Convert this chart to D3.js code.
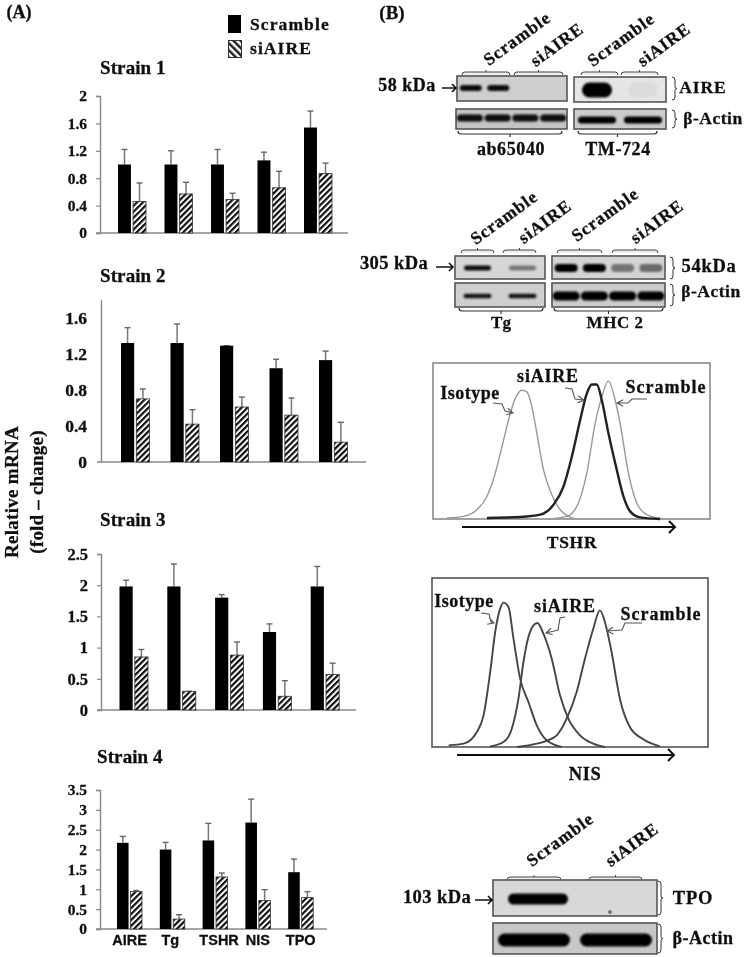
<!DOCTYPE html>
<html><head><meta charset="utf-8">
<script src="https://cdn.jsdelivr.net/npm/d3@7"></script>
<style>
html,body{margin:0;padding:0;background:#fff}
text{font-family:"Liberation Serif",serif;font-weight:bold;fill:#111;stroke:#111;stroke-width:0.3px}
</style></head><body><svg id="fig" width="745" height="957"></svg>
<script>
// ---------- data: qPCR bars ----------
const categories = ["AIRE","Tg","TSHR","NIS","TPO"];
const seriesNames = ["Scramble","siAIRE"];
const strainNames = ["Strain 1","Strain 2","Strain 3","Strain 4"];
const strain1Scramble = [1.0,1.0,1.0,1.06,1.54];
const strain1ScrambleTop = [1.22,1.2,1.22,1.18,1.78];
const strain1Si = [0.46,0.57,0.49,0.66,0.87];
const strain1SiTop = [0.73,0.74,0.58,0.9,1.02];
const strain2Scramble = [1.32,1.32,1.29,1.04,1.13];
const strain2ScrambleTop = [1.49,1.53,1.29,1.14,1.23];
const strain2Si = [0.7,0.42,0.61,0.52,0.22];
const strain2SiTop = [0.81,0.58,0.72,0.71,0.44];
const strain3Scramble = [1.98,1.98,1.8,1.25,1.98];
const strain3ScrambleTop = [2.08,2.34,1.85,1.38,2.3];
const strain3Si = [0.85,0.3,0.88,0.22,0.57];
const strain3SiTop = [0.97,0.3,1.09,0.47,0.75];
const strain4Scramble = [2.17,2.0,2.23,2.68,1.43];
const strain4ScrambleTop = [2.33,2.18,2.66,3.27,1.76];
const strain4Si = [0.94,0.25,1.31,0.72,0.79];
const strain4SiTop = [0.97,0.36,1.41,0.99,0.94];
const ticks1 = [0,0.4,0.8,1.2,1.6,2];
const ticks2 = [0,0.4,0.8,1.2,1.6];
const ticks3 = [0,0.5,1,1.5,2,2.5];
const ticks4 = [0,0.5,1,1.5,2,2.5,3,3.5];

// ---------- data: flow cytometry histograms ----------
const tshrIsoX = [80,130,170,200,225,250,270,290,305,320,335,350,370,395,420,465];
const tshrIsoY = [3,8,28,68,138,238,318,373,388,383,338,258,148,73,28,0];
const tshrSiX = [200,300,360,400,430,455,480,500,515,530,545,565,590,610,630,660,720];
const tshrSiY = [3,6,13,43,98,188,298,378,405,405,358,258,148,68,23,5,0];
const tshrScrX = [380,440,470,500,525,545,565,580,600,625,650,680,730];
const tshrScrY = [0,8,38,138,288,368,416,378,288,138,48,13,0];
const nisIsoX = [85,130,170,190,210,225,240,250,265,280,300,325,350,380,425];
const nisIsoY = [5,10,45,95,225,345,415,433,420,325,205,135,65,20,0];
const nisSiX = [210,250,275,295,310,325,340,352,370,395,420,445,480,520,555];
const nisSiY = [2,15,55,145,255,330,365,372,340,265,155,85,35,10,0];
const nisScrX = [290,350,375,410,440,470,495,520,540,555,575,600,630,670,720];
const nisScrY = [0,10,17,35,85,165,265,355,410,375,285,145,60,23,2];

// ---------- data: western blot lane intensities (0..1) ----------
const ab65040Aire = [0.95,0.95,0,0];
const ab65040Actin = [0.95,0.95,0.95,0.95];
const tm724Aire = [1,0.05];
const tm724Actin = [1,1];
const tgBand = [0.95,0.45];
const tgActin = [0.9,0.9];
const mhcBand = [1,1,0.45,0.5];
const mhcActin = [1,1,1,1];
const tpoBand = [1,0];
const tpoActin = [1,1];

// ---------- set up ----------
const svg = d3.select("#fig");
const defs = svg.append("defs");
const soft = defs.append("filter").attr("id","soft").attr("filterUnits","userSpaceOnUse")
  .attr("x",0).attr("y",0).attr("width",745).attr("height",957);
soft.append("feGaussianBlur").attr("stdDeviation",0.65);
const bandBlur = defs.append("filter").attr("id","bandBlur").attr("x","-20%").attr("y","-40%").attr("width","140%").attr("height","180%");
bandBlur.append("feGaussianBlur").attr("stdDeviation",1.3);
const hatch = defs.append("pattern").attr("id","hatch").attr("patternUnits","userSpaceOnUse")
  .attr("width",4.2).attr("height",4.2).attr("patternTransform","rotate(45)");
hatch.append("rect").attr("width",4.2).attr("height",4.2).attr("fill","#fff");
hatch.append("rect").attr("width",2.2).attr("height",4.2).attr("fill","#111");
const hatchL = defs.append("pattern").attr("id","hatchL").attr("patternUnits","userSpaceOnUse")
  .attr("width",5).attr("height",5).attr("patternTransform","rotate(-45)");
hatchL.append("rect").attr("width",5).attr("height",5).attr("fill","#fff");
hatchL.append("rect").attr("width",2.5).attr("height",5).attr("fill","#222");

const root = svg.append("g").attr("filter","url(#soft)");
function label(x,y,t,size,opts={}){
  const n = root.append("text").attr("text-anchor",opts.anchor||"middle").attr("dominant-baseline","middle")
    .attr("font-size",size).attr("letter-spacing",opts.ls||0).text(t);
  n.attr("transform",`translate(${x},${y}) rotate(${opts.rot||0})`);
  return n;
}

// ---------- panel A ----------
label(19,14,"(A)",18);
label(392,15,"(B)",19);
root.append("rect").attr("x",228).attr("y",15).attr("width",13).attr("height",18).attr("fill","#000");
root.append("rect").attr("x",228.5).attr("y",40.5).attr("width",13).attr("height",17).attr("fill","url(#hatchL)").attr("stroke","#333");
label(250,26,seriesNames[0],17.5,{anchor:"start",ls:1.1});
label(250,50,seriesNames[1],17.5,{anchor:"start",ls:1.1});
label(14,492,"Relative mRNA",19,{rot:-90,ls:0.3});
label(39,492,"(fold \u2013 change)",19,{rot:-90,ls:0.2});

const panels = [
 {name:strainNames[0],s:strain1Scramble,st:strain1ScrambleTop,a:strain1Si,at:strain1SiTop,ticks:ticks1,max:2,top:96,base:233,ax:100,right:348,start:118,step:46.5,bw:28,tickLen:4,titleY:70,titleX:100,fs:15.5,pad:9},
 {name:strainNames[1],s:strain2Scramble,st:strain2ScrambleTop,a:strain2Si,at:strain2SiTop,ticks:ticks2,max:1.8,top:299.7,base:462,ax:101,right:366,start:121,step:49.5,bw:28.5,tickLen:0,titleY:278,titleX:100,fs:17.5,pad:14},
 {name:strainNames[2],s:strain3Scramble,st:strain3ScrambleTop,a:strain3Si,at:strain3SiTop,ticks:ticks3,max:2.5,top:554,base:710,ax:101,right:356,start:119.5,step:47.8,bw:28.5,tickLen:4,titleY:522,titleX:100,fs:16.5,pad:9},
 {name:strainNames[3],s:strain4Scramble,st:strain4ScrambleTop,a:strain4Si,at:strain4SiTop,ticks:ticks4,max:3.5,top:790,base:929,ax:100,right:327,start:117,step:42.8,bw:25,tickLen:4,titleY:759,titleX:97,fs:15.5,pad:9}
];
const labelNudge = {Tg:-2,TSHR:4};
panels.forEach((p,pi)=>{
  const y = d3.scaleLinear().domain([0,p.max]).range([p.base,p.top]);
  const x0 = d3.scaleBand().domain(categories).range([p.start,p.start+5*p.step]);
  const x1 = d3.scaleBand().domain(seriesNames).range([0,p.bw]).paddingInner(0.14);
  const g = root.append("g");
  label(p.titleX,p.titleY,p.name,19,{anchor:"start",ls:0.1});
  const ya = g.append("g").attr("transform",`translate(${p.ax},0)`)
    .call(d3.axisLeft(y).tickValues(p.ticks).tickSize(p.tickLen).tickPadding(p.pad).tickFormat(d=>String(d)));
  ya.select(".domain").attr("stroke","#888").attr("stroke-width",1.4);
  ya.selectAll(".tick line").attr("stroke","#888").attr("stroke-width",1.2);
  ya.selectAll("text").attr("font-size",p.fs).attr("fill","#111").style("font-family",'"Liberation Serif",serif');
  g.append("line").attr("x1",p.ax-4).attr("x2",p.right).attr("y1",p.base).attr("y2",p.base).attr("stroke","#888").attr("stroke-width",1.4);
  if(pi===3){
    const xa = g.append("g").attr("transform",`translate(0,${p.base})`).call(d3.axisBottom(x0).tickSize(0).tickPadding(6));
    xa.select(".domain").remove();
    xa.selectAll("text").attr("font-size",14.5).attr("fill","#111")
      .style("font-family",'"Liberation Sans",sans-serif')
      .attr("dx",d=>(labelNudge[d]||0)-(p.step-p.bw)/2);
  }
  const rows = categories.map((c,i)=>({c,vals:[{k:seriesNames[0],v:p.s[i],t:p.st[i]},{k:seriesNames[1],v:p.a[i],t:p.at[i]}]}));
  const grp = g.selectAll(".grp").data(rows).join("g").attr("class","grp").attr("transform",d=>`translate(${x0(d.c)},0)`);
  const cell = grp.selectAll("g").data(d=>d.vals).join("g");
  cell.append("line").attr("x1",d=>x1(d.k)+x1.bandwidth()/2).attr("x2",d=>x1(d.k)+x1.bandwidth()/2)
    .attr("y1",d=>y(d.t)).attr("y2",d=>y(d.v)).attr("stroke","#777").attr("stroke-width",1.5);
  cell.append("line").attr("x1",d=>x1(d.k)+x1.bandwidth()/2-3).attr("x2",d=>x1(d.k)+x1.bandwidth()/2+3)
    .attr("y1",d=>y(d.t)).attr("y2",d=>y(d.t)).attr("stroke","#666").attr("stroke-width",1.4);
  cell.append("rect").attr("x",d=>x1(d.k)).attr("width",x1.bandwidth())
    .attr("y",d=>y(d.v)).attr("height",d=>p.base-y(d.v))
    .attr("fill",d=>d.k===seriesNames[0]?"#000":"url(#hatch)")
    .attr("stroke",d=>d.k===seriesNames[0]?"none":"#333").attr("stroke-width",0.8);
});

// ---------- helpers for panel B ----------
function bracketTop(x0,x1,y){
  root.append("path").attr("fill","#eee").attr("stroke","#444").attr("stroke-width",1)
    .attr("d",`M${x0},${y+4} q0,-3 3,-3 L${x1-3},${y+1} q3,0 3,3 M${(x0+x1)/2},${y+1} v-2`);
}
function bracketBottom(x0,x1,y){
  root.append("path").attr("fill","none").attr("stroke","#333").attr("stroke-width",1.2)
    .attr("d",`M${x0},${y-3} q0,3 3,3 L${x1-3},${y} q3,0 3,-3 M${(x0+x1)/2},${y} v3`);
}
function brace(x,y0,y1){
  const m=(y0+y1)/2;
  root.append("path").attr("fill","none").attr("stroke","#333").attr("stroke-width",1)
    .attr("d",`M${x},${y0} q3,0 3,3 L${x+3},${m-2} q0,2 2,2 q-2,0 -2,2 L${x+3},${y1-3} q0,3 -3,3`);
}
function arrow(x0,x1,y,sw=1.6,head=4){
  root.append("path").attr("fill","none").attr("stroke","#111").attr("stroke-width",sw)
    .attr("d",`M${x0},${y} H${x1} M${x1-head},${y-head} L${x1},${y} L${x1-head},${y+head}`);
}
function blot(x,y,w,h,lanes,bw,bh,by,bg,dx=0){
  root.append("rect").attr("x",x).attr("y",y).attr("width",w).attr("height",h)
    .attr("fill",bg).attr("stroke","#555").attr("stroke-width",1.6);
  const lane = d3.scaleBand().domain(d3.range(lanes.length)).range([x,x+w]);
  const c = d3.scaleLinear().domain([0,1]).range([bg,"#000"]);
  root.append("g").attr("filter","url(#bandBlur)").selectAll("rect").data(lanes).join("rect")
    .attr("x",(d,i)=>lane(i)+(lane.bandwidth()-bw)/2+dx).attr("width",bw)
    .attr("y",y+by-bh/2).attr("height",bh).attr("rx",bh/2)
    .attr("fill",d=>c(d)).attr("opacity",d=>d>0?1:0);
}
const rot = {rot:-36,ls:0.9};
const headS = 17.5;
const sideS = 17.5;

// row 1
label(518,40,seriesNames[0],headS,rot); label(558,46,seriesNames[1],headS,rot);
label(622,41,seriesNames[0],headS,rot); label(665,46,seriesNames[1],headS,rot);
bracketTop(462,510,71); bracketTop(514,563,71); bracketTop(581,618,71); bracketTop(621,658,71);
blot(457,76,110,25,ab65040Aire,22,6,12,"#cfcfcf");
blot(456,109,111,20,ab65040Actin,26,7,9,"#c4c4c4");
blot(574,77,92,25,tm724Aire,30,15,13,"#e6e6e6");
blot(574,109,92,20,tm724Actin,38,7,11,"#cccccc");
label(407,87,"58 kDa",18,{ls:0.5}); arrow(442,456,88);
brace(672,77,100); brace(672,110,128);
label(703,89,"AIRE",sideS,{ls:0.9}); label(713,120,"\u03b2-Actin",sideS,{ls:0.5});
bracketBottom(458,562,134); bracketBottom(578,657,134);
label(511,151,"ab65040",18,{ls:0.6}); label(618,151,"TM-724",18,{ls:0.6});

// row 2
label(505,219,seriesNames[0],headS,rot); label(546,223,seriesNames[1],headS,rot);
label(606,216,seriesNames[0],headS,rot); label(658,223,seriesNames[1],headS,rot);
bracketTop(461,494,249); bracketTop(503,536,249); bracketTop(557,602,249); bracketTop(612,658,249);
blot(455,256,90,23,tgBand,27,5,12,"#d6d6d6");
blot(455,283,90,24,tgActin,28,4.5,13,"#cfcfcf");
blot(552,256,113,23,mhcBand,23,8,12,"#d4d4d4");
blot(552,283,113,24,mhcActin,27,9,13,"#cccccc");
label(394,265,"305 kDa",18.5,{ls:0.4}); arrow(436,453,267);
brace(670,257,279); brace(670,284,306);
label(709,268,"54kDa",18.5,{ls:0.7}); label(711,293,"\u03b2-Actin",sideS,{ls:0.5});
bracketBottom(459,543,311); bracketBottom(554,663,311);
label(501,324,"Tg",17); label(615,324,"MHC 2",17,{ls:0.5});

// flow panels
function flow(x,y,w,h,xDomain,yMax,curves,strokeBase){
  const sx = d3.scaleLinear().domain(xDomain).range([x,x+w]);
  const sy = d3.scaleLinear().domain([0,yMax]).range([y+h,y]);
  root.append("rect").attr("x",x).attr("y",y).attr("width",w).attr("height",h)
    .attr("fill","#fff").attr("stroke",strokeBase).attr("stroke-width",1.6);
  const line = d3.line().x(d=>sx(d[0])).y(d=>sy(d[1])).curve(d3.curveMonotoneX);
  curves.forEach(c=>{
    root.append("path").attr("fill","none").attr("stroke",c.color).attr("stroke-width",c.w)
      .attr("d",line(d3.zip(c.xs,c.ys)));
  });
}
function leader(pts){
  const [a,b]=pts.slice(-2);
  const ang=Math.atan2(b[1]-a[1],b[0]-a[0]);
  const hl=7;
  root.append("path").attr("fill","none").attr("stroke","#555").attr("stroke-width",1.1)
    .attr("d",d3.line()(pts)+`M${b[0]-hl*Math.cos(ang-0.5)},${b[1]-hl*Math.sin(ang-0.5)}L${b[0]},${b[1]}L${b[0]-hl*Math.cos(ang+0.5)},${b[1]-hl*Math.sin(ang+0.5)}`);
}
flow(433,363,277,156,[38,870],470,[
  {xs:tshrIsoX,ys:tshrIsoY,color:"#999",w:1.4},
  {xs:tshrScrX,ys:tshrScrY,color:"#999",w:1.4},
  {xs:tshrSiX,ys:tshrSiY,color:"#222",w:2.4}],"#8a8a8a");
label(470,395,"Isotype",18,{ls:0.5}); label(548,378,seriesNames[1],18,{ls:0.8}); label(666,389,seriesNames[0],18,{ls:1});
leader([[493,403],[502,404],[505,411],[513,413]]);
leader([[565,388],[572,389],[575,399],[584,400]]);
leader([[647,399],[632,399],[628,403],[617,403]]);
arrow(462,675,527,2,6);
label(572,544,"TSHR",17.5,{ls:0.7});

flow(432,578,276,169,[35,865],507,[
  {xs:nisIsoX,ys:nisIsoY,color:"#444",w:1.9},
  {xs:nisSiX,ys:nisSiY,color:"#444",w:1.9},
  {xs:nisScrX,ys:nisScrY,color:"#444",w:1.9}],"#555");
label(464,603,"Isotype",18,{ls:0.5}); label(565,608,seriesNames[1],18,{ls:0.8}); label(661,616,seriesNames[0],18,{ls:1});
leader([[481,613],[489,614],[491,622],[494,623]]);
leader([[565,617],[560,618],[558,630],[546,633]]);
leader([[642,623],[625,623],[622,630],[607,631]]);
arrow(457,674,755,2,6);
label(585,776,"NIS",18.5,{ls:0.5});

// TPO blot
label(561,841,seriesNames[0],headS,rot); label(633,846,seriesNames[1],headS,rot);
bracketTop(507,561,876); bracketTop(589,642,876);
blot(493,880,164,36,tpoBand,60,11,19,"#d8d8d8",4);
root.append("circle").attr("cx",610).attr("cy",912).attr("r",2).attr("fill","#777");
blot(493,923,164,31,tpoActin,72,13,17,"#c8c8c8");
label(437,899,"103 kDa",18.5,{ls:0.4}); arrow(475,492,900);
brace(658,881,915); brace(658,924,953);
label(693,900,"TPO",18.5,{ls:0.8}); label(703,940,"\u03b2-Actin",18,{ls:0.5});
</script></body></html>
